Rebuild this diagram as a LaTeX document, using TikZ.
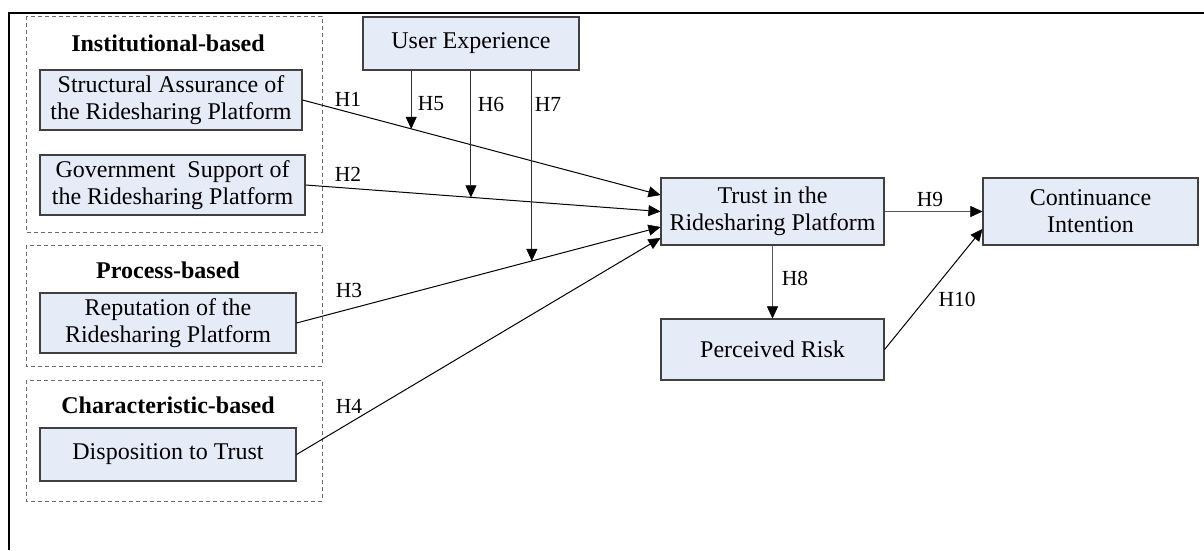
\documentclass[tikz,border=0pt]{standalone}
\usepackage{fontspec}
\setmainfont{Liberation Serif}
\usetikzlibrary{arrows.meta}
\definecolor{boxfill}{HTML}{E6ECF7}
\definecolor{boxline}{HTML}{404040}
\definecolor{grpline}{HTML}{6A6A6A}
\definecolor{modline}{HTML}{303030}
\begin{document}
\begin{tikzpicture}[x=1pt,y=-1pt,
  cbox/.style={draw=boxline,fill=boxfill,line width=1.1pt,inner sep=0pt,align=center,
    font=\fontsize{24}{27}\selectfont},
  grp/.style={draw=grpline,dashed,dash pattern=on 4pt off 3pt,line width=1pt},
  grptitle/.style={font=\fontsize{24}{27}\selectfont\bfseries,inner sep=0pt},
  hlab/.style={font=\fontsize{21.5}{24}\selectfont,inner sep=0pt},
  tip/.style={-{Triangle[length=12pt,width=11pt,color=black,line width=0.5pt]}},
  arr/.style={line width=1pt,tip},
  marr/.style={draw=modline,line width=1.1pt,tip},
  garr/.style={draw=black!65,line width=1.6pt,tip}
]
\useasboundingbox (0,0) rectangle (1204,550);
\fill[white] (0,0) rectangle (1204,550);
\draw[line width=2.5pt] (9,550) -- (9,13) -- (1204,13);

% groups
\draw[grp] (26,16) rectangle (322,232);
\draw[grp] (26,245) rectangle (322,366);
\draw[grp] (26,380) rectangle (322,501);
\node[grptitle] (t1) at (168,43) {Institutional-based};
\node[grptitle] (t2) at (168,270) {Process-based};
\node[grptitle] (t3) at (168,405) {Characteristic-based};

% boxes
\node[cbox,minimum width=262pt,minimum height=60pt] (sa) at (171,100) {Structural Assurance of\\the Ridesharing Platform};
\node[cbox,minimum width=265pt,minimum height=60pt] (gs) at (172.5,185) {Government\ \ Support of\\the Ridesharing Platform};
\node[cbox,minimum width=256pt,minimum height=60pt] (rep) at (168,323) {Reputation of the\\Ridesharing Platform};
\node[cbox,minimum width=256pt,minimum height=53pt] (dt) at (168,454.5) {Disposition to Trust};
\node[cbox,minimum width=216pt,minimum height=53pt] (ue) at (471,43.5) {User Experience};
\node[cbox,minimum width=223pt,minimum height=67pt] (tr) at (772.5,211.5) {Trust in the\\Ridesharing Platform};
\node[cbox,minimum width=215pt,minimum height=67pt] (ci) at (1090.5,211.5) {Continuance\\Intention};
\node[cbox,minimum width=223pt,minimum height=61pt] (pr) at (772.5,349.5) {Perceived Risk};

% main arrows
\draw[arr] (sa.east) -- coordinate[pos=0.3036] (m5) ([yshift=16.5pt]tr.west);
\draw[arr] (gs.east) -- coordinate[pos=0.466] (m6) (tr.west);
\draw[arr] (rep.east) -- coordinate[pos=0.6466] (m7) ([yshift=-15.5pt]tr.west);
\draw[arr] (dt.east) -- ([yshift=-26.5pt]tr.west);

% moderators
\draw[marr] (ue.south -| m5) -- (m5);
\draw[marr] (ue.south -| m6) -- (m6);
\draw[marr] (ue.south -| m7) -- (m7);

% right part
\draw[garr] (tr.south) -- (pr.north);
\draw[garr] (tr.east) -- (ci.west);
\draw[arr] (pr.east) -- ([yshift=-17.5pt]ci.west);

% labels
\node[hlab] (h1) at (348,99) {H1};
\node[hlab] (h2) at (348,174) {H2};
\node[hlab] (h3) at (349,290) {H3};
\node[hlab] (h4) at (349,406) {H4};
\node[hlab] (h5) at (431,104) {H5};
\node[hlab] (h6) at (491,104) {H6};
\node[hlab] (h7) at (548,104) {H7};
\node[hlab] (h8) at (795,278) {H8};
\node[hlab] (h9) at (930,199) {H9};
\node[hlab] (h10) at (957,299) {H10};
\end{tikzpicture}
\end{document}
